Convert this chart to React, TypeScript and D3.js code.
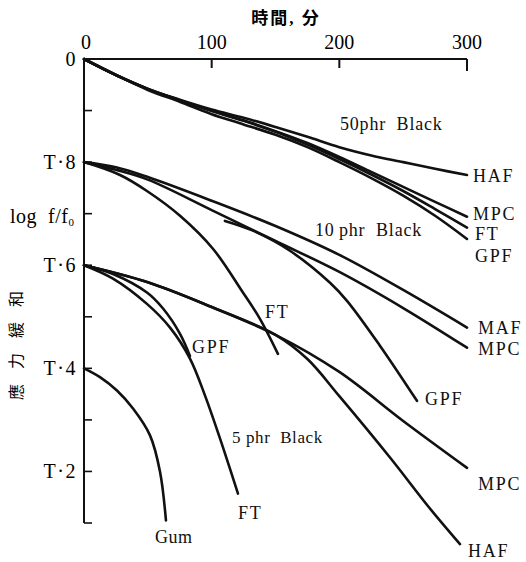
import React from "react";
import * as d3 from "d3";

// Stress relaxation: log f/f0 against time (minutes)
// 50 phr black series
const minutes50 = [0, 25, 50, 75, 100, 125, 150, 175, 200, 225, 250, 275, 300];
const haf50 = [0, -0.031, -0.058, -0.079, -0.098, -0.114, -0.132, -0.151, -0.171, -0.187, -0.2, -0.213, -0.225];
const mpc50 = [0, -0.031, -0.058, -0.08, -0.1, -0.119, -0.14, -0.163, -0.19, -0.219, -0.248, -0.277, -0.306];
const ft50 = [0, -0.031, -0.058, -0.08, -0.101, -0.12, -0.141, -0.166, -0.194, -0.224, -0.256, -0.291, -0.327];
const gpf50 = [0, -0.031, -0.06, -0.083, -0.107, -0.127, -0.147, -0.171, -0.2, -0.231, -0.265, -0.304, -0.349];

// 10 phr black series
const minutes10 = [0, 25, 50, 100, 150, 200, 250, 300];
const maf10 = [-0.2, -0.21, -0.229, -0.275, -0.324, -0.38, -0.448, -0.521];
const mpc10 = [-0.2, -0.215, -0.234, -0.293, -0.353, -0.413, -0.483, -0.56];
const minutesGpf10 = [110.4, 132.3, 161.3, 192.7, 206, 231.8, 260.8];
const gpf10 = [-0.314, -0.333, -0.372, -0.434, -0.469, -0.556, -0.663];
const minutesFt10 = [0, 28.2, 49.3, 75.2, 101, 123.7, 137.8, 151.9];
const ft10 = [-0.2, -0.225, -0.256, -0.304, -0.368, -0.45, -0.504, -0.572];

// 5 phr black series
const minutesMpc5 = [0, 50, 100, 150, 200, 250, 300];
const mpc5 = [-0.4, -0.433, -0.481, -0.535, -0.607, -0.702, -0.793];
const minutesHaf5 = [0, 50, 100, 150, 175, 200, 240, 270, 294.5];
const haf5 = [-0.4, -0.433, -0.481, -0.535, -0.582, -0.654, -0.774, -0.869, -0.941];
const minutesGpf5 = [0, 22.7, 49.3, 61.9, 75.2, 83];
const gpf5 = [-0.4, -0.417, -0.453, -0.484, -0.533, -0.576];
const minutesFt5 = [0, 22.7, 49.3, 67.4, 83, 94.8, 106.5, 120.6];
const ft5 = [-0.4, -0.426, -0.475, -0.521, -0.581, -0.653, -0.736, -0.843];

// Unfilled rubber
const minutesGum = [0, 12.5, 25.8, 38.4, 51.7, 59.5, 64.2];
const gum = [-0.6, -0.617, -0.643, -0.678, -0.73, -0.8, -0.895];

// Axis ticks
const xTicks = [0, 100, 200, 300];
const yMinorTicks = [-0.1, -0.2, -0.3, -0.4, -0.5, -0.6, -0.7, -0.8, -0.9];
const yTickLabels: [number, string][] = [
  [0, "0"],
  [-0.2, "T·8"],
  [-0.4, "T·6"],
  [-0.6, "T·4"],
  [-0.8, "T·2"],
];

const W = 526;
const H = 562;
const serif = "'Liberation Serif', 'Times New Roman', 'Noto Sans CJK JP', serif";

export default function App() {
  const x = d3.scaleLinear().domain([0, 300]).range([84, 467]);
  const y = d3.scaleLinear().domain([0, -0.9]).range([59, 523]);

  const line = d3
    .line<[number, number]>()
    .x((d) => x(d[0]))
    .y((d) => y(d[1]))
    .curve(d3.curveCatmullRom.alpha(0.5));

  const series: [number[], number[]][] = [
    [minutes50, haf50],
    [minutes50, mpc50],
    [minutes50, ft50],
    [minutes50, gpf50],
    [minutes10, maf10],
    [minutes10, mpc10],
    [minutesGpf10, gpf10],
    [minutesFt10, ft10],
    [minutesMpc5, mpc5],
    [minutesHaf5, haf5],
    [minutesGpf5, gpf5],
    [minutesFt5, ft5],
    [minutesGum, gum],
  ];

  const labelStyle: React.CSSProperties = {
    fontFamily: serif,
    fontSize: 18,
    letterSpacing: 1.8,
    fill: "#111",
  };

  const curveLabels: [string, number, number][] = [
    ["HAF", 473, 182],
    ["MPC", 473, 220],
    ["FT", 475, 240],
    ["GPF", 475, 262],
    ["MAF", 478, 334],
    ["MPC", 478, 355],
    ["GPF", 425, 405],
    ["FT", 265, 318],
    ["GPF", 192, 353],
    ["MPC", 478, 490],
    ["HAF", 468, 557],
    ["FT", 238, 519],
  ];

  return (
    <svg
      width={W}
      height={H}
      style={{ position: "absolute", left: 0, top: 0, background: "#fff" }}
    >
      <rect width={W} height={H} fill="#fff" />

      {/* time axis along the top */}
      <text
        x={286}
        y={24}
        textAnchor="middle"
        style={{ fontFamily: serif, fontSize: 17, letterSpacing: 2, fontWeight: 600 }}
      >
        時間, 分
      </text>
      <line x1={x(0)} x2={x(300)} y1={y(0)} y2={y(0)} stroke="#111" strokeWidth={2} />
      {xTicks.slice(1).map((t) => (
        <line
          key={t}
          x1={x(t)}
          x2={x(t)}
          y1={y(0)}
          y2={y(0) + (t === 300 ? 12 : 9)}
          stroke="#111"
          strokeWidth={2}
        />
      ))}
      {xTicks.map((t) => (
        <text
          key={t}
          x={x(t) + (t === 0 ? 2 : 0)}
          y={49}
          textAnchor="middle"
          style={{ fontFamily: serif, fontSize: 20 }}
        >
          {t}
        </text>
      ))}

      {/* log stress axis */}
      <line x1={x(0)} x2={x(0)} y1={y(0)} y2={y(-0.9)} stroke="#111" strokeWidth={2} />
      {yMinorTicks.map((v) => (
        <line
          key={v}
          x1={x(0)}
          x2={x(0) + 8}
          y1={y(v)}
          y2={y(v)}
          stroke="#111"
          strokeWidth={1.6}
        />
      ))}
      {yTickLabels.map(([v, s]) => (
        <text
          key={s}
          x={77}
          y={y(v) + 7}
          textAnchor="end"
          style={{ fontFamily: serif, fontSize: 20, letterSpacing: 1.5 }}
        >
          {s}
        </text>
      ))}
      <text x={10} y={223} style={{ fontFamily: serif, fontSize: 20, letterSpacing: 0.5 }}>
        log{"\u00a0\u00a0"}f/f
        <tspan fontSize={11} dy={3}>
          0
        </tspan>
      </text>
      <text
        transform="translate(15,338) rotate(-90)"
        textAnchor="middle"
        dominantBaseline="central"
        style={{ fontFamily: "'Noto Sans CJK JP', sans-serif", fontSize: 16, letterSpacing: 15 }}
      >
        應力緩和
      </text>

      {/* relaxation curves */}
      {series.map(([ts, vs], i) => (
        <path
          key={i}
          d={line(ts.map((t, j) => [t, vs[j]] as [number, number])) ?? ""}
          fill="none"
          stroke="#111"
          strokeWidth={2.6}
          strokeLinecap="round"
        />
      ))}

      {/* curve labels */}
      {curveLabels.map(([s, lx, ly], i) => (
        <text key={i} x={lx} y={ly} style={labelStyle}>
          {s}
        </text>
      ))}
      <text x={155} y={543} style={{ ...labelStyle, fontSize: 18, letterSpacing: 0.5 }}>
        Gum
      </text>
      <text x={340} y={130} style={{ ...labelStyle, letterSpacing: 0.8 }}>
        50phr{"\u00a0\u00a0"}Black
      </text>
      <text x={315} y={236} style={{ ...labelStyle, letterSpacing: 0.8 }}>
        10{"\u2009"}phr{"\u00a0\u00a0"}Black
      </text>
      <text x={232} y={443} style={{ ...labelStyle, fontSize: 17, letterSpacing: 0.6 }}>
        5 phr{"\u00a0\u00a0"}Black
      </text>
    </svg>
  );
}
